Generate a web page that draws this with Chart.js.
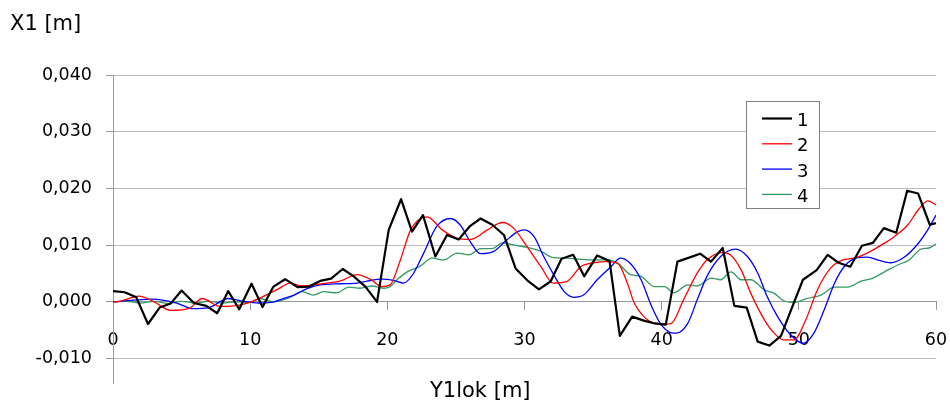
<!DOCTYPE html>
<html><head><meta charset="utf-8">
<script src="https://cdn.jsdelivr.net/npm/chart.js@4.4.0/dist/chart.umd.min.js"></script>
<style>html,body{margin:0;padding:0;background:#fff}</style>
</head><body>
<canvas id="c" width="950" height="400"></canvas>
<script>
const seriesLabels = ['1', '2', '3', '4'];
const yTitle = 'X1 [m]';
const xTitle = 'Y1lok [m]';
const yTicks = [-0.01, 0, 0.01, 0.02, 0.03, 0.04];
const xTicks = [0, 10, 20, 30, 40, 50, 60];

// series 1 (black)
const x1 = [0, 0.85, 1.7, 2.55, 3.4, 4.2, 5.0, 5.9, 6.8, 7.6, 8.4, 9.2, 10.1, 10.9, 11.7, 12.55, 13.45, 14.3, 15.1, 15.9, 16.75, 17.55, 18.4, 19.25, 20.1, 21.0, 21.8, 22.6, 23.5, 24.35, 25.2, 26.0, 26.8, 27.65, 28.5, 29.35, 30.2, 31.05, 31.9, 32.7, 33.55, 34.35, 35.3, 36.2, 36.95, 37.85, 38.7, 39.5, 40.3, 41.15, 42.0, 42.8, 43.6, 44.45, 45.3, 46.2, 47.0, 47.85, 48.7, 49.5, 50.3, 51.3, 52.1, 52.9, 53.75, 54.6, 55.4, 56.2, 57.1, 57.9, 58.7, 59.55, 60];
const y1 = [0.0019, 0.0017, 0.0008, -0.0039, -0.0010, -0.0003, 0.0020, -0.0002, -0.0007, -0.0020, 0.0019, -0.0013, 0.0032, -0.0009, 0.0027, 0.0040, 0.0026, 0.0027, 0.0037, 0.0041, 0.0058, 0.0045, 0.0027, 0.0000, 0.0127, 0.0181, 0.0124, 0.0153, 0.0080, 0.0118, 0.0110, 0.0133, 0.0147, 0.0136, 0.0118, 0.0059, 0.0038, 0.0022, 0.0036, 0.0076, 0.0083, 0.0045, 0.0082, 0.0072, -0.0060, -0.0026, -0.0033, -0.0038, -0.0040, 0.0071, 0.0078, 0.0085, 0.0071, 0.0095, -0.0007, -0.0010, -0.0070, -0.0077, -0.0060, -0.0010, 0.0039, 0.0056, 0.0083, 0.0069, 0.0062, 0.0099, 0.0104, 0.0130, 0.0122, 0.0196, 0.0191, 0.0136, 0.0139];

// series 2 (red)
const x2 = [0, 0.5, 1.9, 3.0, 4.2, 5.6, 6.5, 7.8, 8.8, 9.8, 11.0, 12.0, 12.9, 13.8, 14.6, 15.6, 16.6, 17.8, 18.75, 19.6, 20.2, 20.95, 21.7, 22.9, 24.0, 25.1, 26.05, 27.3, 28.4, 29.2, 30.2, 31.2, 32.1, 33.1, 34.1, 35.05, 36.0, 36.8, 37.5, 38.0, 38.7, 39.2, 39.9, 40.7, 41.6, 42.6, 43.3, 44.4, 45.0, 45.8, 46.5, 47.5, 48.2, 48.9, 49.65, 50.5, 51.35, 52.3, 53.2, 54.0, 55.0, 56.0, 56.95, 57.95, 58.7, 59.4, 60];
const y2 = [0, 0.0001, 0.0010, 0.0000, -0.0015, -0.0011, 0.0006, -0.0008, -0.0007, -0.0002, 0.0010, 0.0022, 0.0033, 0.0028, 0.0030, 0.0033, 0.0037, 0.0048, 0.0040, 0.0027, 0.0030, 0.0074, 0.0127, 0.0150, 0.0127, 0.0112, 0.0110, 0.0127, 0.0140, 0.0130, 0.0097, 0.0062, 0.0033, 0.0036, 0.0062, 0.0069, 0.0071, 0.0068, 0.0033, -0.0002, -0.0026, -0.0035, -0.0040, -0.0038, 0.0004, 0.0051, 0.0074, 0.0087, 0.0083, 0.0056, 0.0015, -0.0032, -0.0055, -0.0067, -0.0067, -0.0032, 0.0021, 0.0059, 0.0074, 0.0077, 0.0086, 0.0100, 0.0115, 0.0136, 0.0162, 0.0178, 0.0171];

// series 3 (blue)
const x3 = [0, 1.5, 2.8, 4.65, 5.8, 7.0, 8.4, 9.5, 10.6, 11.5, 12.3, 13.2, 14.1, 15.1, 16.6, 17.8, 18.6, 19.6, 20.45, 21.2, 21.9, 22.65, 23.6, 24.6, 25.3, 26.05, 26.8, 27.75, 28.7, 29.5, 30.0, 30.7, 31.4, 32.2, 32.9, 33.6, 34.3, 35.3, 36.3, 37.0, 37.7, 38.5, 39.2, 39.9, 40.65, 41.1, 41.9, 42.6, 43.3, 44.3, 45.4, 46.25, 47.0, 47.7, 48.45, 49.4, 50.3, 51.1, 51.85, 52.6, 53.3, 54.15, 55.0, 55.85, 56.7, 57.7, 58.7, 59.4, 60];
const y3 = [0, 0.0003, 0.0005, -0.0002, -0.0012, -0.0010, 0.0006, 0.0001, -0.0002, -0.0001, 0.0005, 0.0012, 0.0023, 0.0030, 0.0032, 0.0033, 0.0037, 0.0040, 0.0038, 0.0033, 0.0050, 0.0086, 0.0133, 0.0147, 0.0136, 0.0106, 0.0085, 0.0089, 0.0109, 0.0124, 0.0127, 0.0115, 0.0080, 0.0045, 0.0018, 0.0008, 0.0012, 0.0039, 0.0062, 0.0077, 0.0068, 0.0039, -0.0004, -0.0038, -0.0054, -0.0055, -0.0038, 0.0004, 0.0045, 0.0080, 0.0093, 0.0080, 0.0051, 0.0009, -0.0026, -0.0058, -0.0073, -0.0055, -0.0014, 0.0033, 0.0062, 0.0077, 0.0079, 0.0073, 0.0069, 0.0079, 0.0103, 0.0127, 0.0153];

// series 4 (green)
const x4 = [0, 1, 2, 3, 4, 5, 6, 7, 8, 9, 10, 10.7, 11.7, 12.9, 13.8, 14.6, 15.35, 16.3, 17.2, 18.0, 18.9, 19.7, 20.2, 20.7, 21.45, 22.4, 23.25, 24.1, 25.1, 25.95, 26.8, 27.65, 28.4, 29.25, 30.2, 31.2, 32.1, 33.1, 34.1, 35.05, 36.0, 36.8, 37.75, 38.5, 39.45, 40.2, 40.9, 41.9, 42.6, 43.6, 44.3, 45.05, 45.8, 46.5, 47.5, 48.2, 48.9, 49.65, 50.6, 51.6, 52.6, 53.55, 54.5, 55.4, 56.25, 57.2, 58.05, 58.9, 59.5, 60];
const y4 = [0, 0.0001, -0.0002, 0.0001, -0.0003, 0.0001, -0.0002, 0.0001, -0.0002, 0.0000, -0.0001, 0.0006, 0.0000, 0.0008, 0.0018, 0.0012, 0.0018, 0.0016, 0.0026, 0.0024, 0.0028, 0.0024, 0.0027, 0.0039, 0.0053, 0.0063, 0.0077, 0.0074, 0.0086, 0.0083, 0.0094, 0.0094, 0.0104, 0.0100, 0.0096, 0.0089, 0.0078, 0.0077, 0.0075, 0.0074, 0.0074, 0.0068, 0.0048, 0.0045, 0.0027, 0.0027, 0.0016, 0.0030, 0.0028, 0.0042, 0.0039, 0.0053, 0.0039, 0.0039, 0.0021, 0.0015, 0.0002, -0.0001, 0.0006, 0.0012, 0.0026, 0.0026, 0.0036, 0.0042, 0.0053, 0.0065, 0.0074, 0.0093, 0.0095, 0.0102];

const FONT = '"DejaVu Sans", Verdana, sans-serif';
function pts(xs, ys) { return xs.map((x, i) => ({ x: x, y: ys[i] })); }

const overlay = {
  id: 'overlay',
  afterDraw(chart) {
    const ctx = chart.ctx;
    ctx.save();
    ctx.fillStyle = '#000';
    ctx.font = '21px ' + FONT;
    ctx.textAlign = 'left';
    ctx.textBaseline = 'alphabetic';
    ctx.fillText(yTitle, 10, 30);
    ctx.fillText(xTitle, 430, 397);
    // legend box
    const bx = 746.5, by = 101.5, bw = 73, bh = 107;
    ctx.fillStyle = '#fff';
    ctx.fillRect(bx, by, bw, bh);
    ctx.strokeStyle = '#808080';
    ctx.lineWidth = 1;
    ctx.strokeRect(bx, by, bw, bh);
    ctx.font = '18px ' + FONT;
    chart.data.datasets.forEach((ds, i) => {
      const ly = 118.5 + i * 25.3;
      ctx.strokeStyle = ds.borderColor;
      ctx.lineWidth = ds.borderWidth;
      ctx.beginPath(); ctx.moveTo(762, ly); ctx.lineTo(792, ly); ctx.stroke();
      ctx.fillStyle = '#000';
      ctx.fillText(ds.label, 797, ly + 7.5);
    });
    ctx.restore();
  }
};

const colors = ['#000000', '#ff0000', '#0000ff', '#339966'];
const widths = [2.2, 1.3, 1.3, 1.3];
const xs = [x1, x2, x3, x4], ys = [y1, y2, y3, y4];

new Chart(document.getElementById('c'), {
  type: 'line',
  data: {
    datasets: seriesLabels.map((lab, i) => ({
      label: lab,
      data: pts(xs[i], ys[i]),
      borderColor: colors[i],
      backgroundColor: colors[i],
      borderWidth: widths[i],
      pointRadius: 0,
      fill: false,
      tension: 0,
      cubicInterpolationMode: i === 0 ? 'default' : 'monotone',
      borderJoinStyle: 'round'
    }))
  },
  options: {
    responsive: false,
    animation: false,
    devicePixelRatio: 1,
    layout: { padding: { top: 75, bottom: 17, left: 0, right: 14 } },
    plugins: { legend: { display: false }, title: { display: false }, tooltip: { enabled: false } },
    scales: {
      x: {
        type: 'linear',
        position: { y: 0 },
        min: 0, max: 60,
        afterBuildTicks: s => { s.ticks = xTicks.map(v => ({ value: v })); },
        afterFit: s => { s.paddingLeft = 0; s.paddingRight = 0; s.paddingTop = 0; s.paddingBottom = 0; },
        grid: { drawOnChartArea: false, drawTicks: true, tickLength: 8, color: '#999999' },
        border: { display: true, color: '#999999', width: 1 },
        ticks: { font: { family: FONT, size: 17.5 }, color: '#000', padding: 20, maxRotation: 0, autoSkip: false }
      },
      y: {
        type: 'linear',
        min: -0.0143, max: 0.04,
        afterBuildTicks: s => { s.ticks = yTicks.map(v => ({ value: v })); },
        afterFit: s => { s.width = 113; s.paddingTop = 0; s.paddingBottom = 0; },
        grid: { color: '#bbbbbb', tickLength: 7, tickColor: '#999999' },
        border: { display: true, color: '#999999', width: 1 },
        ticks: { font: { family: FONT, size: 17.5 }, color: '#000', padding: 14, autoSkip: false,
          callback: v => v.toFixed(3).replace('.', ',') }
      }
    }
  },
  plugins: [overlay]
});
</script>
</body></html>
